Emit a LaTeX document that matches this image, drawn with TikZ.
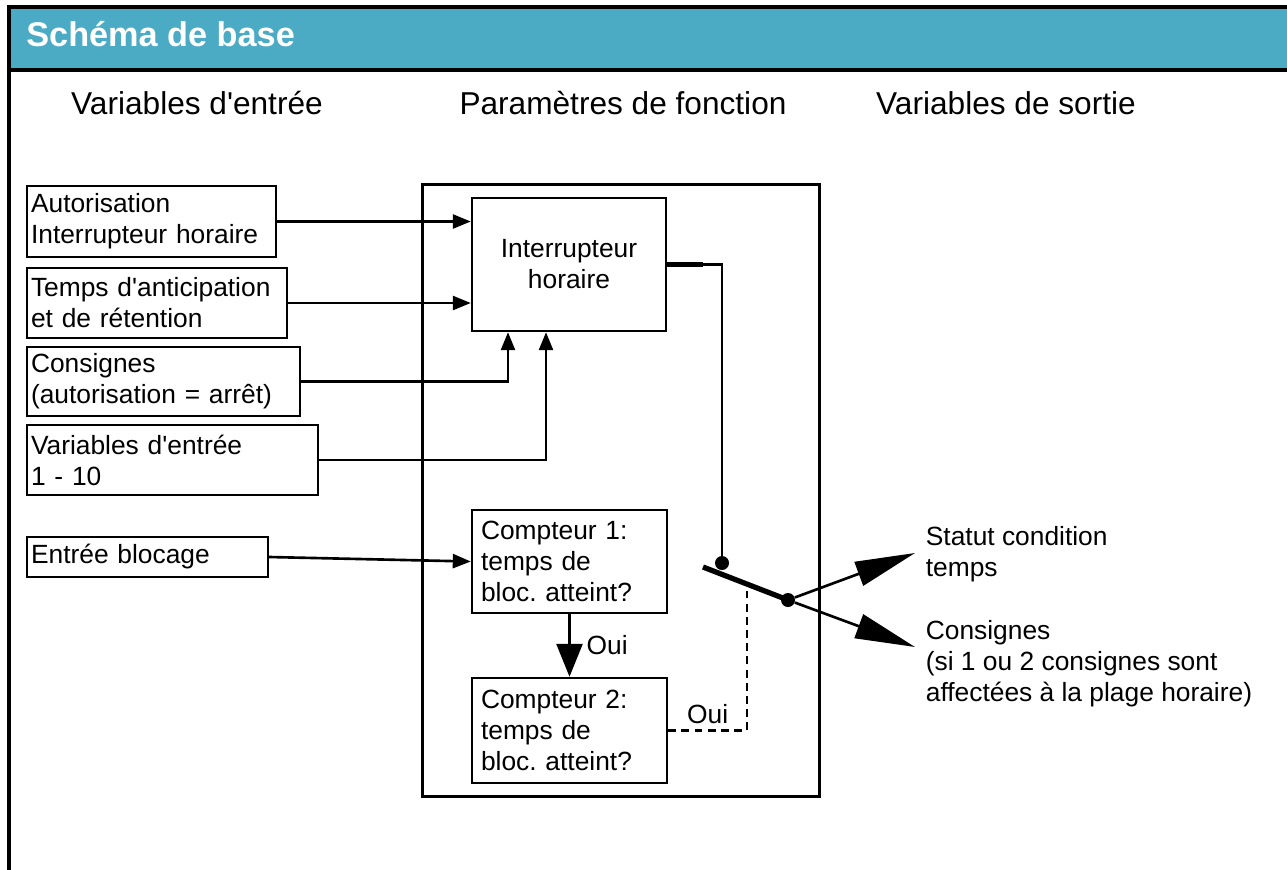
\documentclass[tikz,border=0pt]{standalone}
\usepackage{fontspec}
\setmainfont{Liberation Sans}
\usepackage{xcolor}
\usetikzlibrary{arrows.meta,positioning,calc}
\definecolor{titlebar}{HTML}{4BABC5}
\newcommand{\apos}{\textquotesingle}
\frenchspacing

\begin{document}
\begin{tikzpicture}[x=0.02cm,y=-0.02cm,>={Triangle[length=0.36cm,width=0.28cm]},
  lbl/.style={font=\fontsize{15}{17.6}\selectfont},
  head/.style={font=\fontsize{18}{21}\selectfont},
  inbox/.style={draw,line width=1.4pt,lbl,align=left,inner xsep=0.08cm,inner ysep=0pt},
  fnbox/.style={draw,line width=1.4pt,lbl,align=center,inner sep=0pt},
  conn/.style={line width=1.5pt},
  dot/.style={circle,fill,inner sep=0pt,minimum size=0.28cm},
  bigtip/.style={-{Triangle[length=1.2cm,width=0.5cm]}}]
  \useasboundingbox (0,0) rectangle (1287,869);
  % frame and title bar
  \fill[titlebar] (9,7) rectangle (1300,70);
  \draw[line width=1.8pt] (1300,7) -- (9,7) -- (9,880);
  \draw[line width=1.8pt] (9,70) -- (1300,70);
  \node[anchor=base west,inner sep=0pt,text=white,font=\fontsize{19.5}{23}\selectfont\bfseries] (title) at (26,46) {Schéma de base};
  \node[head] (hin) at (197,103) {Variables d\apos entrée};
  \node[head] (hfn) at (623,103) {Paramètres de fonction};
  \node[head] (hout) at (1006,103) {Variables de sortie};
  % function block
  \node[draw,line width=1.7pt,minimum width=7.96cm,minimum height=12.26cm,inner sep=0pt] (param) at (621,490.5) {};
  \node[fnbox,minimum width=3.88cm,minimum height=2.66cm] (interr) at (569,264.5) {Interrupteur\\horaire};
  \node[inbox,inner xsep=0.18cm,text width=3.54cm,minimum height=2.06cm] (cpt1) at (569.5,561.5) {Compteur 1:\\temps de\\bloc. atteint?};
  \node[inbox,inner xsep=0.18cm,text width=3.54cm,minimum height=2.1cm] (cpt2) at (569.5,730.5) {Compteur 2:\\temps de\\bloc. atteint?};
  % inputs
  \node[inbox,text width=4.82cm,minimum height=1.42cm] (auth) at (151.5,221.5) {Autorisation\\Interrupteur horaire};
  \node[inbox,text width=5.04cm,minimum height=1.4cm] (antic) at (157,303) {Temps d\apos anticipation\\et de rétention};
  \node[inbox,text width=5.30cm,minimum height=1.38cm] (cons) at (163.5,381.5) {Consignes\\(autorisation = arrêt)};
  \node[inbox,text width=5.66cm,minimum height=1.4cm] (vars) at (172.5,460) {Variables d\apos entrée\\1 - 10};
  \node[inbox,text width=4.66cm,minimum height=0.8cm] (blk) at (147.5,557) {Entrée blocage};
  \coordinate (in3) at ($(interr.south)+(-61,0)$);
  \coordinate (in4) at ($(interr.south)+(-23,0)$);
  \draw[conn,->] (auth.east) -- (auth.east -| interr.west);
  \draw[conn,->] (antic.east) -- (antic.east -| interr.west);
  \draw[conn,->] (cons.east) -| (in3);
  \draw[conn,->] (vars.east) -| (in4);
  \draw[conn,->] (blk.east) -- (cpt1.west);
  \draw[conn,-{Triangle[length=0.66cm,width=0.52cm]}] (cpt1.south) -- node[right=0.2cm,lbl] (oui1) {Oui} (cpt2.north);
  % switch
  \coordinate (pivot) at (722,563);
  \coordinate (barstart) at (703,567);
  \coordinate (swpt) at (788,600);
  \coordinate (dashtop) at (747,584);
  \draw[line width=2.6pt] (interr.east) -- ++(36,0);
  \draw[conn] (interr.east) -| (pivot);
  \draw[line width=3pt] (barstart) -- (swpt);
  \draw[conn,dash pattern=on 4.5pt off 3pt] (cpt2.east) -| (dashtop) node[pos=0.25,above,lbl] (oui2) {Oui};
  \node[dot] (pv) at (pivot) {};
  \node[dot] (sw) at (swpt) {};
  % outputs
  \node[lbl,anchor=west,align=left,inner sep=2pt] (statut) at (922,554) {Statut condition\\temps};
  \node[lbl,anchor=west,align=left,inner sep=2pt] (consout) at (922,664) {Consignes\\(si 1 ou 2 consignes sont\\affectées à la plage horaire)};
  \coordinate (tip1) at (915,553);
  \coordinate (tip2) at (915,647);
  \draw[conn,bigtip] (sw) -- (tip1);
  \draw[conn,bigtip] (sw) -- (tip2);
\end{tikzpicture}
\end{document}
